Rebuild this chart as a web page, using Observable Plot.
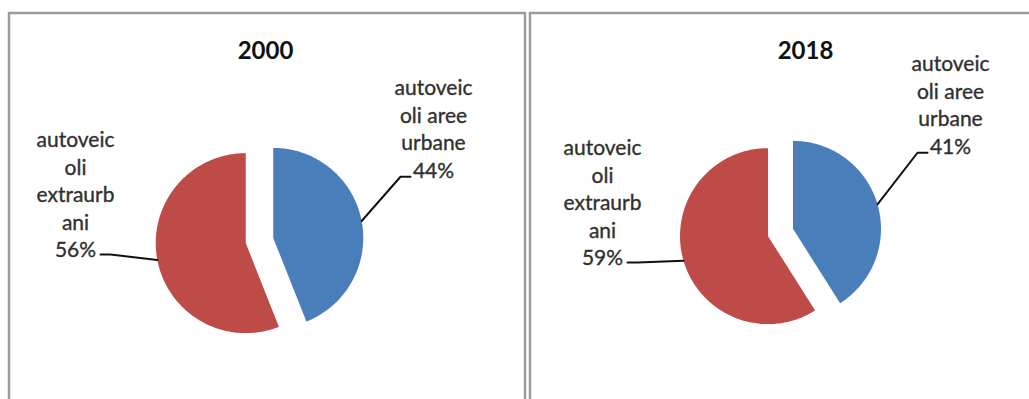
<!DOCTYPE html>
<html>
<head>
<meta charset="utf-8">
<script src="https://cdn.jsdelivr.net/npm/d3@7"></script>
<script src="https://cdn.jsdelivr.net/npm/@observablehq/plot@0.6"></script>
<style>
  html, body { margin: 0; padding: 0; background: #fff; }
  #chart { width: 1029px; height: 399px; overflow: hidden; }
</style>
</head>
<body>
<div id="chart"></div>
<script>
// ---- data ----
const years = ["2000", "2018"];
const categories = ["autoveicoli aree urbane", "autoveicoli extraurbani"];
const urbanShare = [44, 41];
const extraurbanShare = [56, 59];
const urbanLabelLines = ["autoveic", "oli aree", "urbane"];
const extraLabelLines = ["autoveic", "oli", "extraurb", "ani"];
const sliceColors = ["#4a7ebb", "#be4b48"];

// ---- layout (pixels) ----
const W = 1029, H = 399;
const panelsLayout = [
  {x1: 9, x2: 525, y1: 13, y2: 420},
  {x1: 530, x2: 1045, y1: 13, y2: 420}
];
const pieLayout = [
  {cx: 259, cy: 240, r: 90, off: 14, title: [265, 51], urbanLabel: [433, 127], extraLabel: [75, 193]},
  {cx: 780, cy: 232, r: 88, off: 13, title: [805, 51], urbanLabel: [950, 103], extraLabel: [602, 201]}
];
const lineStep = 27.5;

// ---- build slice polygons from the values ----
const slicePts = [];
const leaders = [];
const labels = [];
const titles = [];
years.forEach((yr, i) => {
  const L = pieLayout[i];
  const vals = [urbanShare[i], extraurbanShare[i]];
  const total = d3.sum(vals);
  let a0 = 0;
  vals.forEach((v, k) => {
    const a1 = a0 + v / total * 2 * Math.PI;
    const mid = (a0 + a1) / 2;
    const ox = L.cx + L.off * Math.sin(mid), oy = L.cy - L.off * Math.cos(mid);
    const key = yr + "-" + k;
    slicePts.push({key, cat: k, x: ox, y: oy});
    const n = Math.max(2, Math.ceil((a1 - a0) / 0.02));
    for (let j = 0; j <= n; j++) {
      const a = a0 + (a1 - a0) * j / n;
      slicePts.push({key, cat: k, x: ox + L.r * Math.sin(a), y: oy - L.r * Math.cos(a)});
    }
    // label
    const lines = (k === 0 ? urbanLabelLines : extraLabelLines).concat([v + "%"]);
    const [lx, ly] = k === 0 ? L.urbanLabel : L.extraLabel;
    labels.push({x: lx, y: ly, text: lines.join("\n")});
    const lastY = ly + (lines.length - 1) / 2 * lineStep;
    // leader line from arc midpoint to the label
    const sx = ox + L.r * Math.sin(mid), sy = oy - L.r * Math.cos(mid);
    const pts = k === 0
      ? [[sx, sy], [lx - 33, lastY + 8], [lx - 23, lastY + 8]]
      : [[sx, sy], [lx + 35, lastY + 6], [lx + 25, lastY + 6]];
    pts.forEach(([x, y]) => leaders.push({key, x, y}));
    a0 = a1;
  });
  titles.push({x: L.title[0], y: L.title[1], text: yr});
});

const chart = Plot.plot({
  width: W,
  height: H,
  margin: 0,
  x: {type: "identity", axis: null},
  y: {type: "identity", axis: null},
  style: {fontFamily: "Lato, 'Open Sans', sans-serif", background: "#fff"},
  marks: [
    Plot.rect(panelsLayout, {x1: "x1", x2: "x2", y1: "y1", y2: "y2", fill: "none", stroke: "#9c9c9c", strokeWidth: 2.5}),
    ...sliceColors.map((c, k) =>
      Plot.line(slicePts.filter(d => d.cat === k), {x: "x", y: "y", z: "key", fill: c, stroke: "none", curve: "linear-closed"})
    ),
    Plot.line(leaders, {x: "x", y: "y", z: "key", stroke: "#111", strokeWidth: 2, curve: "linear"}),
    Plot.text(labels, {x: "x", y: "y", text: "text", fontSize: 21, lineHeight: lineStep / 21, lineAnchor: "middle", textAnchor: "middle", fill: "#303030", stroke: "#303030", strokeWidth: 0.35}),
    Plot.text(titles, {x: "x", y: "y", text: "text", fontSize: 24, fontWeight: "bold", lineAnchor: "middle", textAnchor: "middle", fill: "#111"})
  ]
});
document.getElementById("chart").appendChild(chart);
</script>
</body>
</html>
